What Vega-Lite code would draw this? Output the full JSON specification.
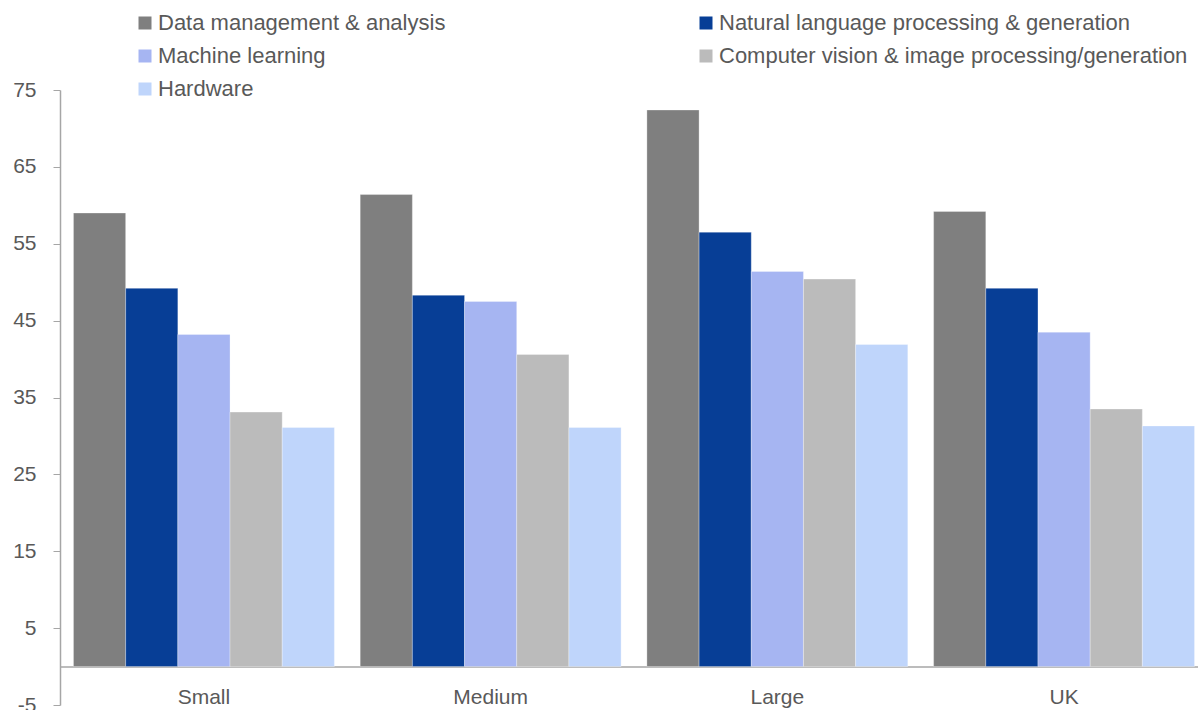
{
  "$schema": "https://vega.github.io/schema/vega-lite/v6.json",
  "width": 1148,
  "height": 615,
  "autosize": {"type": "none"},
  "padding": {"left": 60, "top": 90, "right": 0, "bottom": 5},
  "background": "white",
  "config": {
    "font": "Liberation Sans",
    "view": {"stroke": null},
    "axis": {"labelFont": "Liberation Sans", "labelColor": "#595959", "labelFontSize": 21, "domainColor": "#a6a6a6", "tickColor": "#a6a6a6", "domainWidth": 1.5, "grid": false, "title": null}
  },
  "data": {
    "values": [
      {"size": "Small", "tech": "Data management & analysis", "value": 59.0},
      {"size": "Small", "tech": "Natural language processing & generation", "value": 49.2},
      {"size": "Small", "tech": "Machine learning", "value": 43.2},
      {"size": "Small", "tech": "Computer vision & image processing/generation", "value": 33.1},
      {"size": "Small", "tech": "Hardware", "value": 31.1},
      {"size": "Medium", "tech": "Data management & analysis", "value": 61.4},
      {"size": "Medium", "tech": "Natural language processing & generation", "value": 48.3},
      {"size": "Medium", "tech": "Machine learning", "value": 47.5},
      {"size": "Medium", "tech": "Computer vision & image processing/generation", "value": 40.6},
      {"size": "Medium", "tech": "Hardware", "value": 31.1},
      {"size": "Large", "tech": "Data management & analysis", "value": 72.4},
      {"size": "Large", "tech": "Natural language processing & generation", "value": 56.5},
      {"size": "Large", "tech": "Machine learning", "value": 51.4},
      {"size": "Large", "tech": "Computer vision & image processing/generation", "value": 50.4},
      {"size": "Large", "tech": "Hardware", "value": 41.9},
      {"size": "UK", "tech": "Data management & analysis", "value": 59.2},
      {"size": "UK", "tech": "Natural language processing & generation", "value": 49.2},
      {"size": "UK", "tech": "Machine learning", "value": 43.5},
      {"size": "UK", "tech": "Computer vision & image processing/generation", "value": 33.5},
      {"size": "UK", "tech": "Hardware", "value": 31.3}
    ]
  },
  "mark": {"type": "bar", "stroke": "white", "strokeWidth": 0.5, "strokeOpacity": 0.6},
  "encoding": {
    "x": {
      "field": "size", "type": "nominal", "sort": ["Small", "Medium", "Large", "UK"],
      "scale": {"paddingInner": 0.09, "paddingOuter": 0.047},
      "axis": {"orient": "bottom", "offset": -38.5, "ticks": false, "tickSize": 0, "labelPadding": 20, "labelAngle": 0}
    },
    "xOffset": {
      "field": "tech", "type": "nominal",
      "sort": ["Data management & analysis", "Natural language processing & generation", "Machine learning", "Computer vision & image processing/generation", "Hardware"],
      "scale": {"paddingInner": 0, "paddingOuter": 0}
    },
    "y": {
      "field": "value", "type": "quantitative",
      "scale": {"domain": [-5, 75], "nice": false, "zero": false},
      "axis": {"values": [-5, 5, 15, 25, 35, 45, 55, 65, 75], "tickSize": 7, "labelPadding": 17, "labelExpr": "replace(datum.label, '−', '-')"}
    },
    "color": {
      "field": "tech", "type": "nominal",
      "scale": {
        "domain": ["Data management & analysis", "Machine learning", "Hardware", "Natural language processing & generation", "Computer vision & image processing/generation"],
        "range": ["#7f7f7f", "#a6b5f2", "#bfd5fb", "#073e96", "#bbbbbb"]
      },
      "legend": {
        "orient": "none", "legendX": 74, "legendY": -78, "columns": 2, "columnPadding": 249,
        "title": null, "symbolType": "square", "symbolSize": 169, "symbolStrokeWidth": 0,
        "labelFontSize": 22, "labelColor": "#595959", "labelFont": "Liberation Sans",
        "labelOffset": 2, "rowPadding": 11, "labelLimit": 600
      }
    }
  }
}
